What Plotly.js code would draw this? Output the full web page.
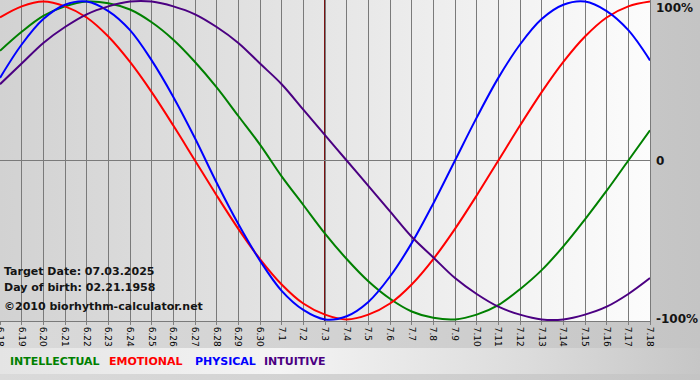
<!DOCTYPE html>
<html>
<head>
<meta charset="utf-8">
<script src="https://cdn.plot.ly/plotly-3.0.1.min.js"></script>
<style>
  html, body { margin: 0; padding: 0; }
  body {
    width: 700px; height: 380px; overflow: hidden;
    background:
      linear-gradient(to right, #e4e4e4 0%, #f4f4f4 40%, #dcdcdc 75%, #c6c6c6 100%) 0 348px / 700px 26px no-repeat,
      linear-gradient(to right, #dadada 0%, #d0d0d0 60%, #c4c4c4 100%);
  }
  #chart { width: 700px; height: 380px; }
</style>
</head>
<body>
<div id="chart"></div>
<script>
// Day labels (month.day) along the x axis
const dayLabels = ['6.18','6.19','6.20','6.21','6.22','6.23','6.24','6.25','6.26','6.27','6.28','6.29','6.30',
  '7.1','7.2','7.3','7.4','7.5','7.6','7.7','7.8','7.9','7.10','7.11','7.12','7.13','7.14','7.15','7.16','7.17','7.18'];

// Series values in percent, one per day
const intellectual = [69,81,91,97,100,99,95,87,76,62,46,28,10,-10,-28,-46,-62,-76,-87,-95,-99,-100,-97,-91,-81,-69,-54,-37,-19,0,19];
const emotional    = [90,97,100,97,90,78,62,43,22,0,-22,-43,-62,-78,-90,-97,-100,-97,-90,-78,-62,-43,-22,0,22,43,62,78,90,97,100];
const physical     = [52,73,89,98,100,94,82,63,40,14,-14,-40,-63,-82,-94,-100,-98,-89,-73,-52,-27,0,27,52,73,89,98,100,94,82,63];
const intuitive    = [48,61,74,84,92,97,100,100,97,92,84,74,61,48,32,16,0,-16,-32,-48,-61,-74,-84,-92,-97,-100,-100,-97,-92,-84,-74];

const seriesNames  = ['INTELLECTUAL','EMOTIONAL','PHYSICAL','INTUITIVE'];
const seriesValues = [intellectual, emotional, physical, intuitive];
const seriesColors = ['#008000','#ff0000','#0000ff','#4b0082'];

const yTickVals = [100, 0, -100];
const yTickText = ['100%', '0', '-100%'];

const targetLabel = '7.3';
const infoLines = ['Target Date: 07.03.2025', 'Day of birth: 02.21.1958', '\u00a92010 biorhythm-calculator.net'];

const xIdx = dayLabels.map((_, i) => i);

const traces = seriesValues.map((vals, k) => ({
  type: 'scatter', mode: 'lines', x: xIdx, y: vals, name: seriesNames[k],
  line: { color: seriesColors[k], width: 2, shape: 'spline', smoothing: 1 },
  hoverinfo: 'skip', showlegend: false
}));

const fontFam = 'DejaVu Sans, Verdana, sans-serif';
const bold = { family: fontFam, size: 11, color: '#141414', weight: 'bold' };

const annotations = [];
yTickVals.forEach((v, i) => {
  annotations.push({
    xref: 'paper', yref: 'y', x: 1, y: v, xanchor: 'left', yanchor: 'middle',
    xshift: 4, yshift: (i === 0 ? -6 : 0),
    text: yTickText[i], showarrow: false,
    font: { family: fontFam, size: 12, color: '#141414', weight: 'bold' }
  });
});
const infoY = [271, 287, 306];
infoLines.forEach((t, i) => {
  annotations.push({
    xref: 'paper', yref: 'paper', x: 0, y: (321 - infoY[i]) / 321,
    xanchor: 'left', yanchor: 'middle', xshift: 2,
    text: t, showarrow: false, font: bold
  });
});
// legend row
const legendX = [8, 107, 193, 262];
seriesNames.forEach((n, k) => {
  annotations.push({
    xref: 'paper', yref: 'paper', x: legendX[k] / 650, y: (321 - 362) / 321,
    xanchor: 'left', yanchor: 'middle',
    text: n, showarrow: false,
    font: { family: fontFam, size: 11, color: seriesColors[k], weight: 'bold' }
  });
});

const gradSvg = '<svg xmlns="http://www.w3.org/2000/svg" width="100" height="100" preserveAspectRatio="none">' +
  '<defs><linearGradient id="g" x1="0" y1="0" x2="1" y2="0">' +
  '<stop offset="0" stop-color="#d2d2d2"/><stop offset="0.5" stop-color="#e6e6e6"/><stop offset="1" stop-color="#fcfcfc"/>' +
  '</linearGradient></defs><rect width="100" height="100" fill="url(#g)"/></svg>';

const layout = {
  width: 700, height: 380,
  margin: { l: 0, r: 50, t: 0, b: 59, pad: 0 },
  paper_bgcolor: 'rgba(0,0,0,0)',
  plot_bgcolor: 'rgba(0,0,0,0)',
  showlegend: false,
  images: [{
    source: 'data:image/svg+xml;charset=utf-8,' + encodeURIComponent(gradSvg),
    xref: 'paper', yref: 'paper', x: 0, y: 1, sizex: 1, sizey: 1,
    sizing: 'stretch', xanchor: 'left', yanchor: 'top', layer: 'below'
  }],
  xaxis: {
    range: [0, dayLabels.length - 1],
    tickvals: xIdx, ticktext: dayLabels, tickangle: 90,
    ticklabeloverflow: 'allow',
    tickfont: { family: fontFam, size: 9, color: '#000' },
    ticks: 'outside', ticklen: 3, tickcolor: '#808080',
    showgrid: true, gridcolor: '#7a7a7a', gridwidth: 1,
    showline: true, linecolor: '#7a7a7a', linewidth: 1,
    zeroline: false, fixedrange: true
  },
  yaxis: {
    range: [-101, 101], side: 'right',
    showticklabels: false, ticks: '',
    showgrid: false, zeroline: true, zerolinecolor: '#7a7a7a', zerolinewidth: 1,
    showline: true, linecolor: '#7a7a7a', linewidth: 1, fixedrange: true
  },
  shapes: [{
    type: 'line', xref: 'x', yref: 'paper',
    x0: dayLabels.indexOf(targetLabel), x1: dayLabels.indexOf(targetLabel), y0: 0, y1: 1,
    line: { color: '#7a1212', width: 2 }, layer: 'below'
  }],
  annotations: annotations
};

Plotly.newPlot('chart', traces, layout, { staticPlot: true, displayModeBar: false });
</script>
</body>
</html>
